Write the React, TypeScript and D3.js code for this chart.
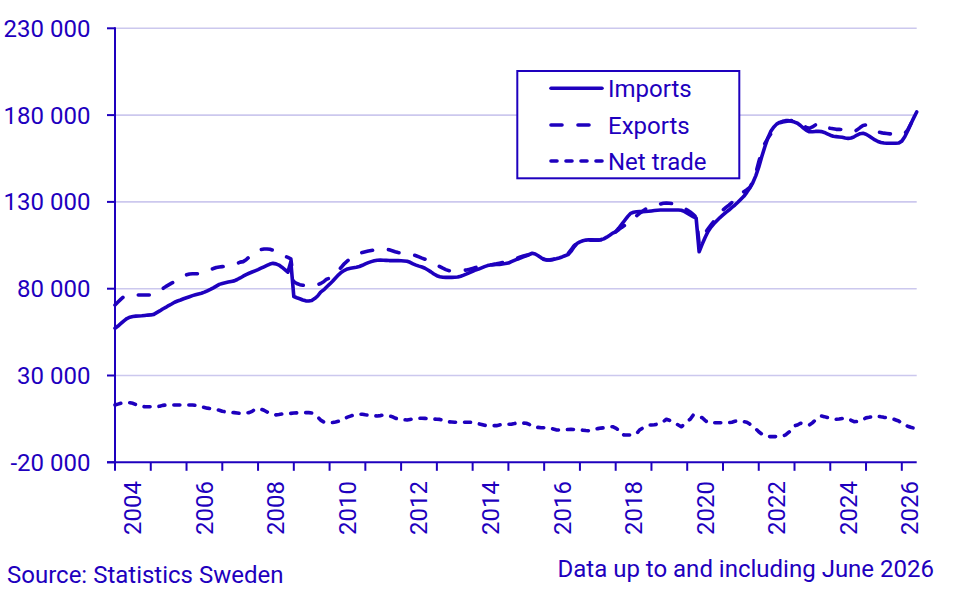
import React from "react";
import * as d3 from "d3";

const START_YEAR = 2004;
const yearLabels = ["2004", "2006", "2008", "2010", "2012", "2014", "2016", "2018", "2020", "2022", "2024", "2026"];
const yTickValues = [-20000, 30000, 80000, 130000, 180000, 230000];
const seriesNames = ["Imports", "Exports", "Net trade"];

const imports = [
  57200, 58500, 60000, 61500, 62800, 63600, 64000, 64200, 64300, 64400, 64600, 64800,
  64900, 65200, 66200, 67200, 68300, 69200, 70300, 71200, 72200, 72900, 73500, 74200,
  74800, 75400, 76000, 76500, 77000, 77400, 78000, 78800, 79600, 80500, 81500, 82500,
  83000, 83400, 83800, 84200, 84500, 85300, 86200, 87200, 88100, 88900, 89600, 90300,
  91000, 91800, 92600, 93400, 94200, 94600, 94300, 93600, 92400, 91000, 89500, 95500,
  75500, 74800, 74200, 73500, 73000, 72900, 73200, 74300, 75800, 78000, 79300, 81000,
  82600, 84300, 86200, 88000, 89500, 90600, 91400, 91800, 92100, 92400, 92800, 93500,
  94300, 95000, 95600, 96100, 96400, 96500, 96400, 96300, 96200, 96200, 96200, 96200,
  96100, 96000, 95800, 95200, 94300, 93600, 93000, 92500, 91800, 90800, 89700, 88500,
  87500, 86900, 86600, 86500, 86500, 86500, 86600, 86700, 87200, 87800, 88500, 89300,
  90000, 90800, 91300, 92000, 92700, 93300, 93700, 93800, 93900, 94000, 94300, 94500,
  94800, 95600, 96300, 97000, 97600, 98300, 99000, 99700, 100400, 100000, 99000, 97800,
  96900, 96500, 96600, 96800, 97200, 97700, 98300, 99000, 99600, 101500, 104000, 106000,
  107000, 107600, 108000, 108200, 108100, 108000, 108000, 108200, 108700, 109700, 110800, 112000,
  112800, 114800, 117000, 119300, 121500, 123400, 124000, 124300, 124400, 124400, 124500, 124600,
  124800, 125000, 125200, 125300, 125300, 125300, 125300, 125300, 125300, 125300, 125200, 124500,
  123500, 122500, 121500, 120600, 101300, 105500, 109500, 113000, 115500, 117500, 119300, 121000,
  122500, 124000, 125300, 126800, 128200, 129800, 131500, 133200, 135500, 138000, 141000, 145000,
  150000, 156000, 161500, 166500, 170500, 173000, 174800, 175800, 176400, 176800, 176800, 176500,
  176000, 175300, 174000, 172500, 171200, 170400, 170400, 170600, 170700, 170500, 170000, 169200,
  168400, 167800, 167600, 167400, 167200, 166800, 166600, 166800, 167500, 168500, 169300, 169500,
  169000, 168000, 166800, 165700, 164800, 164200, 163900, 163800, 163800, 163800, 163800, 163900,
  165000, 167500, 171000, 174800, 178400, 181800,
];

const exports = [
  70600, 72300, 74000, 75500, 76300, 76400, 76400, 76400, 76400, 76400, 76400, 76400,
  76400, 76500, 77500, 78800, 80000, 81200, 82200, 83200, 84000, 85000, 86200, 87300,
  88000, 88500, 88600, 88600, 88600, 88600, 89200, 90000, 90800, 91600, 92200, 92500,
  92700, 92900, 93100, 93400, 93900, 94600, 95300, 95600, 96700, 98300, 100000, 101200,
  102000, 102600, 102900, 102900, 102700, 102200, 101300, 100400, 99500, 98700, 98000, 97200,
  84000, 83000, 82300, 82000, 81800, 81700, 81700, 81800, 82300, 83000, 84000, 85500,
  86000, 87500, 89000, 90600, 92500, 94500, 96000, 97500, 98700, 99600, 100300, 100900,
  101300, 101700, 102000, 102300, 102600, 102800, 102900, 102800, 102400, 101900, 101300, 100800,
  100400, 100100, 99900, 99800, 99500, 99000, 98300, 97600, 97000, 96100, 95200, 94500,
  93600, 92700, 91800, 91000, 90400, 90300, 90300, 90400, 90500, 90600, 90800, 91200,
  91700, 92200, 92600, 92900, 93200, 93500, 93700, 94000, 94300, 94700, 95100, 95500,
  95800, 96300, 97000, 97700, 98300, 98800, 99200, 99600, 100000, 99600, 98800, 97700,
  96800, 96500, 96600, 96900, 97400, 98000, 98700, 99300, 100200, 102300, 104700, 106200,
  106800, 107300, 107700, 107900, 108000, 108000, 108000, 108200, 108800, 109800, 110900, 112000,
  112800, 114000, 115300, 116500, 117600, 118600, 120300, 122000, 123400, 124600, 125800, 126800,
  127000, 127700, 128300, 128800, 129200, 129300, 129200, 129000, 128600, 128000, 127200, 126300,
  125300, 124200, 122800, 121300, 106000, 109000, 112000, 114500, 116800, 119000, 121500, 123500,
  125300, 126800, 128200, 129700, 131300, 132800, 134300, 135900, 137000, 138300, 141500, 146500,
  153000, 159000, 163500, 166500, 169000, 172000, 174300, 175500, 176000, 176300, 176600, 176800,
  176800, 176600, 175500, 174000, 172800, 172400, 173200, 174300, 175300, 174800, 173800, 172800,
  172400, 172100, 171800, 171800, 171700, 171300, 170800, 170400, 170400, 171500, 172800, 174000,
  174300, 173500, 172300, 171200, 170400, 169900, 169600, 169400, 169200, 169100, 168900, 168700,
  168800, 169500, 171500, 174800, 178400, 181800,
];

const netTrade = [
  13000, 13500, 14000, 14300, 14300, 14300, 14000, 13200, 12500, 12200, 12000, 12000,
  12000, 12000, 12000, 12300, 12800, 13000, 13000, 13000, 13000, 13000, 13000, 13000,
  13000, 13000, 13000, 12800, 12300, 12000, 11600, 11200, 10900, 10600, 10300, 10000,
  9400, 9100, 8900, 8800, 8600, 8400, 8200, 8300, 8500, 8600, 9300, 10600,
  10700, 10600, 10000, 9000, 8200, 7600, 7300, 7500, 7800, 8000, 8100, 8200,
  8400, 8500, 8600, 8600, 8600, 8600, 8400, 7600, 6200, 4300, 3300, 2900,
  2800, 2900, 3200, 3600, 4500, 5300, 6000, 6600, 7200, 7500, 7700, 7700,
  7400, 7200, 7000, 6800, 6700, 6900, 7200, 7000, 6700, 6300, 5500, 4800,
  4600, 4500, 4400, 4700, 5000, 5200, 5300, 5400, 5300, 5100, 5000, 4900,
  4800, 4700, 4200, 3500, 3300, 3200, 3100, 3100, 3100, 3100, 3100, 3100,
  2900, 2600, 2200, 1800, 1300, 1100, 1100, 1100, 1100, 1500, 1900, 1900,
  1900, 1900, 2300, 2800, 2700, 2600, 2500, 1800, 500, 300, 100, -100,
  -100, -100, -300, -800, -1300, -1400, -1400, -1300, -1100, -1000, -1100, -1300,
  -1400, -1500, -1700, -1800, -1500, -900, -600, -300, -100, 100, 400, 500,
  -300, -1400, -4000, -4300, -4300, -4300, -4300, -3600, -1400, -300, 700, 1500,
  1500, 1600, 2000, 2500, 3500, 4800, 4200, 3200, 2500, 1500, 500, 1800,
  3600, 4800, 7200, 7000, 6300, 5700, 4200, 2800, 2800, 2800, 2800, 2800,
  2800, 2800, 2900, 3100, 3600, 4000, 3800, 3400, 3100, 2000, 500, -700,
  -2400, -3700, -4800, -5200, -5200, -5200, -5200, -5100, -4900, -4200, -2800, -1400,
  1000, 1500, 2500, 2100, 1800, 1500, 2700, 4400, 5600, 6700, 6300, 5800,
  5400, 5100, 4800, 4900, 5200, 5400, 5000, 4200, 3400, 3500, 3800, 4600,
  5600, 5900, 6300, 6700, 6600, 6200, 5900, 5700, 5500, 5000, 4400, 3800,
  2300, 1500, 800, 200, -300, -800,
];

const BLUE = "#1E00BE";
const GRID = "#CCC8EE";
const FONT = "Roboto, 'Noto Sans', sans-serif";
const FS = 24;

const fmt = d3.formatLocale({
  decimal: ".",
  thousands: " ",
  grouping: [3],
  currency: ["", ""],
  minus: "-",
}).format(",");

export default function App() {
  const W = 965;
  const H = 601;
  const n = imports.length;
  const x = d3.scaleLinear().domain([0, n - 1]).range([115, 916.7]);
  const y = d3.scaleLinear().domain([-20000, 230000]).range([462.3, 28.3]);
  const line = d3
    .line<number>()
    .x((_, i) => x(i))
    .y((d) => y(d));

  const yearStarts: number[] = [];
  for (let i = 0; i < n; i += 12) yearStarts.push(i);

  const styles = [
    { dash: undefined as string | undefined },
    { dash: "11,16" },
    { dash: "6,9" },
  ];
  const data = [imports, exports, netTrade];

  const legendX = 517.3;
  const legendY = 71;
  const legendRows = [88.3, 125, 161];

  return (
    <svg
      width={W}
      height={H}
      viewBox={`0 0 ${W} ${H}`}
      style={{ position: "absolute", left: 0, top: 0, display: "block", background: "#fff" }}
      fontFamily={FONT}
    >
      {yTickValues
        .filter((v) => v !== -20000)
        .map((v) => (
          <line key={"g" + v} x1={x(0)} x2={x(n - 1)} y1={y(v)} y2={y(v)} stroke={GRID} strokeWidth={1.6} />
        ))}

      {data.map((s, k) => (
        <path
          key={"s" + k}
          d={line(s) || ""}
          fill="none"
          stroke={BLUE}
          strokeWidth={3.6}
          strokeLinecap="round"
          strokeLinejoin="round"
          strokeDasharray={styles[k].dash}
        />
      ))}

      <line x1={x(0)} x2={x(0)} y1={y(230000) - 1} y2={y(-20000)} stroke={BLUE} strokeWidth={2} />
      {yTickValues.map((v) => (
        <g key={"yt" + v}>
          <line x1={x(0) - 8} x2={x(0)} y1={y(v)} y2={y(v)} stroke={BLUE} strokeWidth={2} />
          <text x={90.5} y={y(v) + 8.5} textAnchor="end" fontSize={FS} fill={BLUE}>
            {fmt(v)}
          </text>
        </g>
      ))}

      <line x1={x(0) - 8} x2={x(n - 1)} y1={y(-20000)} y2={y(-20000)} stroke={BLUE} strokeWidth={2} />
      {yearStarts.map((i) => (
        <line key={"xt" + i} x1={x(i)} x2={x(i)} y1={y(-20000)} y2={y(-20000) + 8.5} stroke={BLUE} strokeWidth={2} />
      ))}
      {yearLabels.map((lab) => {
        const start = (parseInt(lab, 10) - START_YEAR) * 12;
        const end = Math.min(start + 12, n - 1);
        const cx = (x(start) + x(end)) / 2;
        return (
          <text
            key={"xl" + lab}
            transform={`translate(${cx + 8.5},${481}) rotate(-90)`}
            textAnchor="end"
            fontSize={FS}
            fill={BLUE}
          >
            {lab}
          </text>
        );
      })}

      <rect x={legendX} y={legendY} width={222} height={107.3} fill="#fff" stroke={BLUE} strokeWidth={2} />
      {seriesNames.map((name, k) => (
        <g key={"lg" + k}>
          <line
            x1={551}
            x2={602}
            y1={legendRows[k]}
            y2={legendRows[k]}
            stroke={BLUE}
            strokeWidth={3.6}
            strokeLinecap="round"
            strokeDasharray={styles[k].dash}
          />
          <text x={608} y={legendRows[k] + 8.5} fontSize={FS} fill={BLUE}>
            {name}
          </text>
        </g>
      ))}

      <text x={7} y={583} fontSize={FS} fill={BLUE}>
        Source: Statistics Sweden
      </text>
      <text x={934} y={577} fontSize={FS} fill={BLUE} textAnchor="end">
        Data up to and including June 2026
      </text>
    </svg>
  );
}
